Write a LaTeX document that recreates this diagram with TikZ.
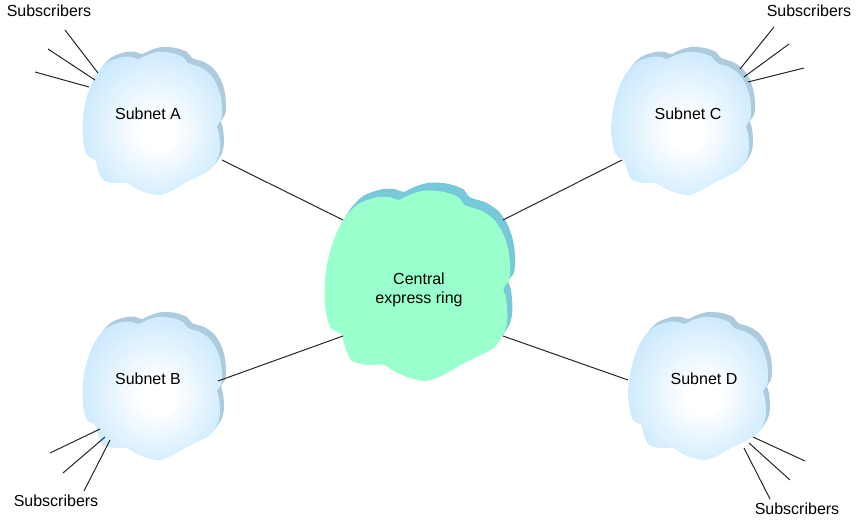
\documentclass[tikz,border=0pt]{standalone}
\usepackage{fontspec}
\setmainfont{Liberation Sans}
\definecolor{subnetedge}{HTML}{CDEAFD}
\definecolor{subnetshadow}{HTML}{AECBDD}
\definecolor{hubfill}{HTML}{99FFCC}
\definecolor{hubshadow}{HTML}{77C8D8}
\pgfdeclareradialshading{subnetglow}{\pgfpoint{2bp}{-3bp}}{color(0bp)=(white); color(6bp)=(white); color(27bp)=(subnetedge); color(50bp)=(subnetedge)}
\newcommand{\cloudpath}{plot[smooth cycle, tension=0.5] coordinates {(-69,-6) (-66,-23) (-61,-38) (-54,-51) (-44,-61) (-30,-66) (-20,-66) (-14,-64) (-5,-68) (6,-71) (20,-70) (31,-66) (36,-60) (48,-56) (58,-49) (65,-38) (69,-25) (70,-11) (69,-3) (65,3) (67,10) (68,24) (66,35) (58,47) (45,54) (33,60) (21,67) (8,72) (-5,70) (-17,65) (-25,60) (-37,60) (-49,57) (-54,47) (-57,37) (-65,32) (-69,17)}}
\tikzset{
    label/.style={font=\fontsize{8}{9.5}\selectfont, align=center, inner sep=1pt},
    link/.style={draw=black!85, line width=0.5pt}
}
\begin{document}
\begin{tikzpicture}[x=0.5pt, y=-0.5pt]
    \useasboundingbox (0, 0) rectangle (858, 520);
    % subnet clouds
    \foreach \cx/\cy in {152/123, 152/388, 681/123, 698/388} {
        \fill[subnetshadow, shift={(\cx, \cy)}, shift={(4, -5)}] \cloudpath;
        \shade[shading=subnetglow, shift={(\cx, \cy)}] \cloudpath;
    }
    % central ring
    \fill[hubshadow, shift={(422, 277)}, scale=1.33] \cloudpath;
    \fill[hubfill, shift={(417, 285)}, scale=1.33] \cloudpath;

    \node[label] (subnetA) at (148, 114) {Subnet A};
    \node[label] (subnetB) at (148, 379) {Subnet B};
    \node[label] (subnetC) at (688, 114) {Subnet C};
    \node[label] (subnetD) at (704, 379) {Subnet D};
    \node[label] (central) at (419, 290) {Central\\express ring};
    \node[label] (subsA) at (49, 11) {Subscribers};
    \node[label] (subsB) at (56, 501) {Subscribers};
    \node[label] (subsC) at (809, 11) {Subscribers};
    \node[label] (subsD) at (797, 509) {Subscribers};

    % links to the ring
    \coordinate (edgeA) at (222, 160);
    \coordinate (edgeB) at (218, 381);
    \coordinate (edgeC) at (622, 160);
    \coordinate (edgeD) at (628, 380);
    \coordinate (ringA) at (343, 220);
    \coordinate (ringB) at (343, 336);
    \coordinate (ringC) at (503, 220);
    \coordinate (ringD) at (503, 336);
    \draw[link] (edgeA) -- (ringA);
    \draw[link] (edgeB) -- (ringB);
    \draw[link] (edgeC) -- (ringC);
    \draw[link] (edgeD) -- (ringD);

    % subscriber lines
    \foreach \n/\px/\py/\qx/\qy in {
        a1/98/73/65/30, a2/95/80/48/49, a3/89/87/35/72,
        b1/100/429/50/453, b2/105/437/63/473, b3/110/440/84/491,
        c1/740/69/774/27, c2/744/77/789/44, c3/748/82/804/68,
        d1/753/437/805/461, d2/749/443/790/480, d3/744/448/770/499} {
        \coordinate (\n in) at (\px, \py);
        \coordinate (\n out) at (\qx, \qy);
        \draw[link] (\n in) -- (\n out);
    }
\end{tikzpicture}
\end{document}
